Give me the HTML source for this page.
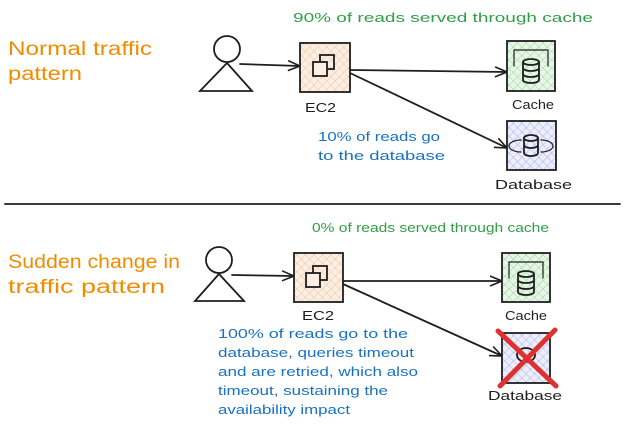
<!DOCTYPE html>
<html><head><style>
body{margin:0;background:#fff;width:624px;height:426px;overflow:hidden}
svg text{font-family:"Liberation Sans",sans-serif}
</style></head><body>
<svg width="624" height="426" viewBox="0 0 624 426">
<defs>
<pattern id="po" width="6" height="6" patternUnits="userSpaceOnUse" patternTransform="rotate(45)"><rect width="6" height="6" fill="#fbeee3"/><path d="M0 0H6M0 0V6" stroke="#f0b98a" stroke-width="0.8"/></pattern>
<pattern id="pg" width="6" height="6" patternUnits="userSpaceOnUse" patternTransform="rotate(45)"><rect width="6" height="6" fill="#e8f6e8"/><path d="M0 0H6M0 0V6" stroke="#7fcf86" stroke-width="0.8"/></pattern>
<pattern id="pb" width="6" height="6" patternUnits="userSpaceOnUse" patternTransform="rotate(45)"><rect width="6" height="6" fill="#eceefb"/><path d="M0 0H6M0 0V6" stroke="#9aa3e6" stroke-width="0.8"/></pattern>
<marker id="ar" markerWidth="14" markerHeight="12" refX="13" refY="6" orient="auto" markerUnits="userSpaceOnUse"><path d="M1 1L13 6L1 11" fill="none" stroke="#1e1e1e" stroke-width="1.6"/></marker>
</defs>
<g fill="none" stroke="#1e1e1e" stroke-width="1.8" stroke-linecap="round">
<circle cx="227" cy="49" r="13"/><path d="M227 63L200 91H252Z"/>
<line x1="240" y1="64" x2="300" y2="66" marker-end="url(#ar)"/>
<rect x="300" y="43" width="50" height="49" fill="url(#po)"/>
<rect x="320" y="55" width="14" height="14"/><rect x="313" y="62" width="14" height="14" fill="#fbeee3"/>
<line x1="350" y1="70" x2="507" y2="72" marker-end="url(#ar)"/>
<line x1="350" y1="73" x2="507" y2="148" marker-end="url(#ar)"/>
<rect x="507" y="41" width="48" height="50" fill="url(#pg)"/>
<ellipse cx="531" cy="62" rx="8" ry="3"/><path d="M523 62V80A8 3 0 0 0 539 80V62M523 68A8 3 0 0 0 539 68M523 74A8 3 0 0 0 539 74"/>
<path d="M514 66V50H548V66" stroke-width="1.2"/>
<rect x="507" y="121" width="49" height="49" fill="url(#pb)"/>
<ellipse cx="531" cy="138" rx="7" ry="3"/><path d="M524 138V153A7 3 0 0 0 538 153V138M524 145A7 3 0 0 0 538 145"/>
<path d="M521 140A12 6 0 0 0 521 152M541 140A12 6 0 0 1 541 152" stroke-width="1.2"/>
<line x1="5" y1="204" x2="620" y2="204"/>
<circle cx="219" cy="260" r="13"/><path d="M219 274L195 301H244Z"/>
<line x1="232" y1="275" x2="294" y2="276" marker-end="url(#ar)"/>
<rect x="294" y="253" width="49" height="49" fill="url(#po)"/>
<rect x="313" y="266" width="14" height="14"/><rect x="306" y="273" width="14" height="14" fill="#fbeee3"/>
<line x1="343" y1="281" x2="502" y2="281" marker-end="url(#ar)"/>
<line x1="343" y1="284" x2="502" y2="356" marker-end="url(#ar)"/>
<rect x="502" y="253" width="48" height="49" fill="url(#pg)"/>
<ellipse cx="526" cy="274" rx="8" ry="3"/><path d="M518 274V292A8 3 0 0 0 534 292V274M518 280A8 3 0 0 0 534 280M518 286A8 3 0 0 0 534 286"/>
<path d="M509 278V262H543V278" stroke-width="1.2"/>
<rect x="502" y="333" width="48" height="50" fill="url(#pb)"/>
<ellipse cx="526" cy="355" rx="9" ry="7"/>
<path d="M498 331L556 386M555 330L500 386" stroke="#e03131" stroke-width="5"/>
</g>
<g font-size="19" fill="#f08c00" lengthAdjust="spacingAndGlyphs">
<text x="8" y="55" textLength="144" lengthAdjust="spacingAndGlyphs">Normal traffic</text><text x="8" y="80" textLength="74" lengthAdjust="spacingAndGlyphs">pattern</text>
<text x="8" y="268" textLength="172" lengthAdjust="spacingAndGlyphs">Sudden change in</text><text x="8" y="293" textLength="157" lengthAdjust="spacingAndGlyphs">traffic pattern</text>
</g>
<g font-size="13" fill="#2f9e44">
<text x="293" y="22" textLength="300" lengthAdjust="spacingAndGlyphs">90% of reads served through cache</text>
<text x="312" y="232" textLength="237" lengthAdjust="spacingAndGlyphs">0% of reads served through cache</text>
</g>
<g font-size="13" fill="#1971c2">
<text x="318" y="141" textLength="122" lengthAdjust="spacingAndGlyphs">10% of reads go</text><text x="318" y="160" textLength="127" lengthAdjust="spacingAndGlyphs">to the database</text>
<text x="218" y="338" textLength="190" lengthAdjust="spacingAndGlyphs">100% of reads go to the</text>
<text x="218" y="357" textLength="196" lengthAdjust="spacingAndGlyphs">database, queries timeout</text>
<text x="218" y="376" textLength="200" lengthAdjust="spacingAndGlyphs">and are retried, which also</text>
<text x="218" y="395" textLength="170" lengthAdjust="spacingAndGlyphs">timeout, sustaining the</text>
<text x="218" y="414" textLength="132" lengthAdjust="spacingAndGlyphs">availability impact</text>
</g>
<g font-size="13" fill="#1e1e1e">
<text x="305" y="112" textLength="31" lengthAdjust="spacingAndGlyphs">EC2</text><text x="512" y="109" textLength="42" lengthAdjust="spacingAndGlyphs">Cache</text><text x="495" y="189" textLength="77" lengthAdjust="spacingAndGlyphs">Database</text>
<text x="302" y="320" textLength="32" lengthAdjust="spacingAndGlyphs">EC2</text><text x="505" y="320" textLength="42" lengthAdjust="spacingAndGlyphs">Cache</text><text x="488" y="400" textLength="74" lengthAdjust="spacingAndGlyphs">Database</text>
</g>
</svg>
</body></html>
